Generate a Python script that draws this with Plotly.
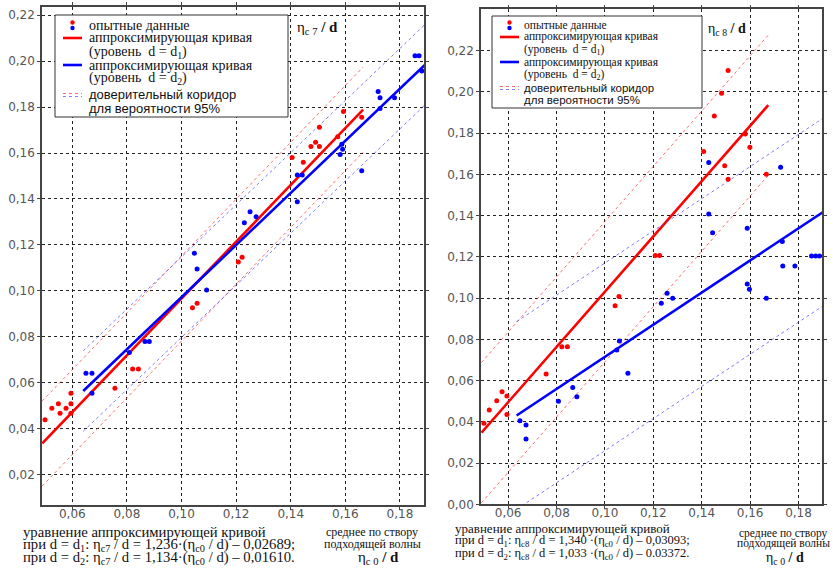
import plotly.graph_objects as go
import numpy as np

W, H = 833, 570

# ---------------- data (left chart: eta_c7/d vs eta_c0/d) ----------------
left_red_x = [0.050, 0.0525, 0.0549, 0.0555, 0.0577, 0.0595, 0.0595, 0.0595, 0.0756, 0.0821, 0.0842,
              0.1040, 0.1057, 0.1208, 0.1222, 0.1405, 0.1446, 0.1474, 0.1491, 0.1505, 0.1505, 0.1572,
              0.1593, 0.1660]
left_red_y = [0.0440, 0.0490, 0.0509, 0.0468, 0.0490, 0.0509, 0.0555, 0.0468, 0.0577, 0.0661, 0.0661,
              0.0927, 0.0946, 0.1126, 0.1147, 0.1580, 0.1560, 0.1628, 0.1647, 0.1628, 0.1712, 0.1671,
              0.1780, 0.1755]
left_blue_x = [0.0650, 0.0672, 0.0672, 0.0809, 0.0866, 0.0882, 0.1047, 0.1057, 0.1092, 0.1230, 0.1251,
               0.1273, 0.1424, 0.1424, 0.1442, 0.1581, 0.1590, 0.1587, 0.1660, 0.1727, 0.1727, 0.1720,
               0.1780, 0.1855, 0.1870, 0.1880]
left_blue_y = [0.0642, 0.0642, 0.0555, 0.0732, 0.0780, 0.0780, 0.1164, 0.1096, 0.1004, 0.1297, 0.1345,
               0.1323, 0.1388, 0.1504, 0.1504, 0.1594, 0.1616, 0.1638, 0.1523, 0.1794, 0.1840, 0.1867,
               0.1840, 0.2023, 0.2023, 0.1957]

# ---------------- data (right chart: eta_c8/d vs eta_c0/d) ----------------
right_red_x = [0.0500, 0.0522, 0.0553, 0.0575, 0.0595, 0.0595, 0.0757, 0.0822, 0.0845, 0.1042, 0.1058,
               0.1208, 0.1226, 0.1408, 0.1452, 0.1482, 0.1495, 0.1509, 0.1509, 0.1580, 0.1599, 0.1667]
right_red_y = [0.0393, 0.0457, 0.0502, 0.0546, 0.0525, 0.0436, 0.0632, 0.0764, 0.0764, 0.0963, 0.1007,
               0.1206, 0.1206, 0.1710, 0.1883, 0.1993, 0.1642, 0.1576, 0.2103, 0.1795, 0.1731, 0.1600]
right_blue_x = [0.0649, 0.0674, 0.0674, 0.0808, 0.0867, 0.0884, 0.1049, 0.1060, 0.1095, 0.1233, 0.1257,
                0.1280, 0.1429, 0.1429, 0.1445, 0.1588, 0.1588, 0.1597, 0.1667, 0.1726, 0.1733, 0.1735,
                0.1785, 0.1854, 0.1871, 0.1887]
right_blue_y = [0.0405, 0.0385, 0.0317, 0.0500, 0.0566, 0.0522, 0.0748, 0.0792, 0.0635, 0.0975, 0.1023,
                0.0999, 0.1657, 0.1408, 0.1317, 0.1338, 0.1068, 0.1043, 0.0999, 0.1634, 0.1274, 0.1156,
                0.1156, 0.1204, 0.1204, 0.1204]

# fitted lines (slope, intercept), x-extent, corridor half-width
left_red_fit = (1.236, -0.02689);  left_red_span = (0.049, 0.1665);  left_red_band = 0.0185
left_blue_fit = (1.134, -0.01610); left_blue_span = (0.064, 0.189);  left_blue_band = 0.0175
right_red_fit = (1.340, -0.03093); right_red_span = (0.049, 0.1675); right_red_band = 0.034
right_blue_fit = (0.779, -0.0064); right_blue_span = (0.0635, 0.19); right_blue_band = 0.0455

x_ticks = [0.06, 0.08, 0.10, 0.12, 0.14, 0.16, 0.18]
left_y_ticks = [0.02, 0.04, 0.06, 0.08, 0.10, 0.12, 0.14, 0.16, 0.18, 0.20, 0.22]
right_y_ticks = [0.00, 0.02, 0.04, 0.06, 0.08, 0.10, 0.12, 0.14, 0.16, 0.18, 0.20, 0.22]

RED = "#ff0000"
BLUE = "#0000ff"
RED_L = "rgba(255,60,60,0.75)"
BLUE_L = "rgba(70,70,255,0.7)"
SERIF = "Liberation Serif, Times New Roman, DejaVu Serif, serif"
SANS = "Liberation Sans, Arial, sans-serif"

fig = go.Figure()


def add_fit(fit, span, band, color, lcolor, xa, ya):
    xs = np.array(span)
    ys = fit[0] * xs + fit[1]
    for off in (band, -band):
        fig.add_trace(go.Scatter(x=xs, y=ys + off, mode="lines", xaxis=xa, yaxis=ya,
                                 line=dict(color=lcolor, width=1, dash="dot"), showlegend=False,
                                 hoverinfo="skip"))
    fig.add_trace(go.Scatter(x=xs, y=ys, mode="lines", xaxis=xa, yaxis=ya,
                             line=dict(color=color, width=2.6), showlegend=False, hoverinfo="skip"))


add_fit(left_red_fit, left_red_span, left_red_band, RED, RED_L, "x", "y")
add_fit(left_blue_fit, left_blue_span, left_blue_band, BLUE, BLUE_L, "x", "y")
add_fit(right_red_fit, right_red_span, right_red_band, RED, RED_L, "x2", "y2")
add_fit(right_blue_fit, right_blue_span, right_blue_band, BLUE, BLUE_L, "x2", "y2")

for xs, ys, c, xa, ya in [(left_red_x, left_red_y, RED, "x", "y"),
                          (left_blue_x, left_blue_y, BLUE, "x", "y"),
                          (right_red_x, right_red_y, RED, "x2", "y2"),
                          (right_blue_x, right_blue_y, BLUE, "x2", "y2")]:
    fig.add_trace(go.Scatter(x=xs, y=ys, mode="markers", xaxis=xa, yaxis=ya,
                             marker=dict(color=c, size=5), showlegend=False))

axis_common = dict(showgrid=True, gridcolor="#222", griddash="dot", gridwidth=1,
                   showline=True, linecolor="#444", linewidth=1.5, mirror="ticks",
                   ticks="outside", ticklen=3, tickcolor="#444", zeroline=False,
                   tickfont=dict(family="DejaVu Sans", size=12, color="#555"),
                   tickformat=".2f", automargin=False)


def fx(px):
    return px / W


def fy(py):
    return 1 - py / H


fig.update_layout(
    width=W, height=H, margin=dict(l=0, r=0, t=0, b=0),
    paper_bgcolor="white", plot_bgcolor="white", separators=", ",
    showlegend=False,
    xaxis=dict(domain=[fx(42), fx(424)], range=[0.0489, 0.1888], tickvals=x_ticks,
               ticklabelstandoff=-6, **axis_common),
    yaxis=dict(domain=[fy(505), fy(7)], range=[0.0069, 0.2235], tickvals=left_y_ticks, **axis_common),
    xaxis2=dict(domain=[fx(481), fx(822)], range=[0.0488, 0.1897], tickvals=x_ticks,
                anchor="y2", ticklabelstandoff=-6, **axis_common),
    yaxis2=dict(domain=[fy(504.3), fy(9.3)], range=[0.0, 0.24], tickvals=right_y_ticks,
                anchor="x2", **axis_common),
)

shapes = []
annots = []


def text(px, py, s, size=13, family=SERIF, anchor="left", color="#111"):
    annots.append(dict(x=fx(px), y=fy(py), xref="paper", yref="paper", text=s, showarrow=False,
                       xanchor=anchor, yanchor="middle", font=dict(family=family, size=size, color=color)))


def hline(x0, x1, y, color, width=2.6, dash=None):
    ln = dict(color=color, width=width)
    if dash:
        ln["dash"] = dash
    shapes.append(dict(type="line", xref="paper", yref="paper", x0=fx(x0), x1=fx(x1), y0=fy(y), y1=fy(y),
                       line=ln))


def dot(px, py, color, r=2.2):
    shapes.append(dict(type="circle", xref="paper", yref="paper", x0=fx(px - r), x1=fx(px + r),
                       y0=fy(py + r), y1=fy(py - r), fillcolor=color, line=dict(width=0)))


def legend(x0, y0, x1, y1, tx, lx0, lx1, rows, size_serif, size_sans):
    shapes.append(dict(type="rect", xref="paper", yref="paper", x0=fx(x0), x1=fx(x1), y0=fy(y1), y1=fy(y0),
                       fillcolor="white", line=dict(color="#333", width=1)))
    r = rows
    dot((lx0 + lx1) / 2, r[0] - 2.5, RED)
    dot((lx0 + lx1) / 2, r[0] + 3, BLUE)
    hline(lx0, lx1, r[1], RED)
    hline(lx0, lx1, r[3], BLUE)
    hline(lx0, lx1, r[5] - 1.5, RED_L, width=1.2, dash="dot")
    hline(lx0, lx1, r[5] + 1.5, BLUE_L, width=1.2, dash="dot")
    text(tx, r[0], "опытные данные", size_serif)
    text(tx, r[1], "аппроксимирующая кривая", size_serif)
    text(tx, r[2], "(уровень  d = d<sub>1</sub>)", size_serif)
    text(tx, r[3], "аппроксимирующая кривая", size_serif)
    text(tx, r[4], "(уровень  d = d<sub>2</sub>)", size_serif)
    text(tx, r[5], "доверительный коридор", size_sans, family=SANS)
    text(tx, r[6], "для вероятности 95%", size_sans, family=SANS)


legend(55, 15, 288, 117, 87, 63, 82, [25, 38, 52, 65, 79, 95, 108], 14, 13)
legend(492, 16, 702, 108, 522, 500, 519, [25, 37, 50, 62, 75, 88, 100], 11.5, 11.5)

# axis titles inside plots
text(295, 28, "η<sub>c</sub><sub> 7</sub><b> / d</b>", 15)
text(706, 29, "η<sub>c</sub><sub> 8</sub><b> / d</b>", 14)

# bottom equations
text(21, 532, "уравнение аппроксимирующей кривой", 14.7)
text(21, 545, "при d = d<sub>1</sub>: η<sub>c7</sub> / d = 1,236·(η<sub>c0</sub> / d) – 0,02689;", 14.7)
text(21, 558, "при d = d<sub>2</sub>: η<sub>c7</sub> / d = 1,134·(η<sub>c0</sub> / d) – 0,01610.", 14.7)
text(453, 528, "уравнение аппроксимирующей кривой", 13)
text(453, 541, "при d = d<sub>1</sub>: η<sub>c8</sub> / d = 1,340 ·(η<sub>c0</sub> / d) – 0,03093;", 12.5)
text(453, 554, "при d = d<sub>2</sub>: η<sub>c8</sub> / d = 1,033 ·(η<sub>c0</sub> / d) – 0.03372.", 12.5)

text(372, 532, "среднее по створу", 12, anchor="center")
text(372, 544, "подходящей волны", 12, anchor="center")
text(378, 558, "η<sub>c</sub><sub> 0</sub><b> / d</b>", 15, anchor="center")
text(783, 533, "среднее по створу", 11.5, anchor="center")
text(783, 543, "подходящей волны", 11.5, anchor="center")
text(785, 558, "η<sub>c</sub><sub> 0</sub><b> / d</b>", 14, anchor="center")

fig.update_layout(shapes=shapes, annotations=annots)
fig.write_html("out.html")
